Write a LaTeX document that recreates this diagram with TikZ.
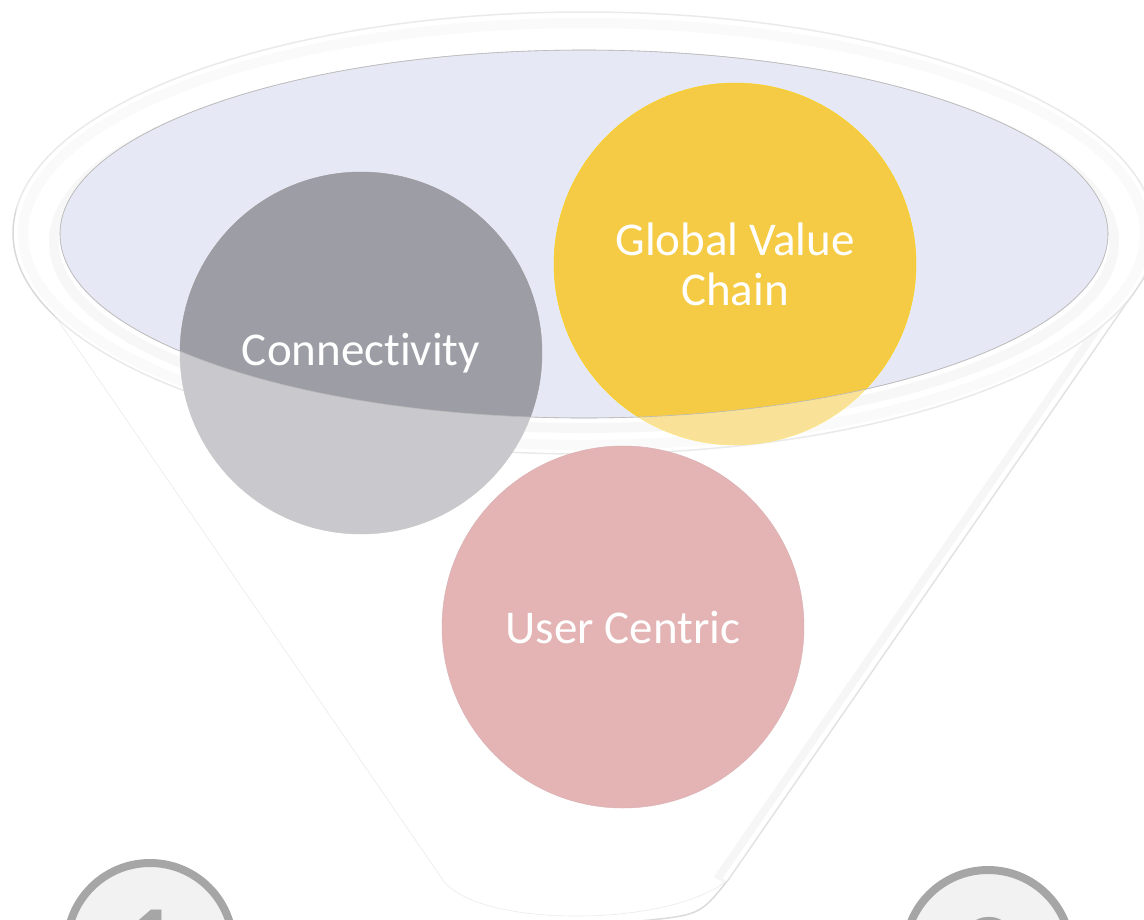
\documentclass[tikz,border=0pt]{standalone}
\usepackage{fontspec}
\setmainfont{Carlito}[Ligatures=NoCommon]
\usetikzlibrary{positioning}

\definecolor{mouthlav}{HTML}{E6E8F5}
\definecolor{connectgray}{HTML}{9D9DA5}
\definecolor{chainyellow}{HTML}{F5CB45}
\definecolor{userpink}{HTML}{CE777A}
\definecolor{badgefill}{HTML}{F2F2F2}
\definecolor{badgeline}{HTML}{A6A6A6}

\begin{document}
\begin{tikzpicture}[x=1pt,y=-1pt,
  bubble/.style={circle,minimum size=362pt,inner sep=0pt,text=white,align=center,
    font=\fontsize{47}{50}\selectfont},
  badge/.style={circle,minimum size=166pt,inner sep=0pt,fill=badgefill,draw=badgeline,
    line width=8pt,text=badgeline,font=\fontsize{110}{110}\selectfont\bfseries}]

  \useasboundingbox (0,0) rectangle (1144,919);
  \clip (0,0) rectangle (1144,919);

  % funnel body
  \coordinate (lt) at (18,262);
  \coordinate (lb) at (443,880);
  \coordinate (rb) at (728,880);
  \coordinate (rt) at (1152,266);
  \filldraw[fill=white,draw=gray!20,line width=0.6pt]
    (lt) -- (lb) .. controls (478,928) and (668,928) .. (rb) -- (rt);
  \draw[gray!12,line width=12pt] ([xshift=-9pt]rt) -- ([xshift=-9pt]rb);
  \draw[white,line width=6pt] ([xshift=-3pt]rt) -- ([xshift=-3pt]rb);
  \draw[gray!28,line width=1.5pt] (rt) -- (rb) .. controls (700,915) .. (640,921);

  % rim
  \filldraw[fill=white,draw=gray!30,line width=1.5pt] (584,233) ellipse (571 and 221);
  \draw[gray!7,line width=10pt] (584,234) ellipse (561 and 211);
  \draw[gray!10,line width=10pt] (584,242) ellipse (530 and 186);
  \filldraw[fill=mouthlav,draw=gray!45,line width=0.6pt] (584,234) ellipse (524 and 184);

  % bubbles
  \node[bubble,fill=connectgray,draw=gray!80] (conn) at (361,353) {Connectivity};
  \node[bubble,fill=chainyellow,draw=yellow!70!orange] (gvc) at (735,264) {Global Value\\Chain};
  \node[bubble,fill=userpink,draw=userpink!90!black] (user) at (623,627) {User Centric};

  % front face of the funnel
  \fill[white,opacity=0.45,even odd rule]
    (lt) -- (lb) .. controls (478,928) and (668,928) .. (rb) -- (rt) -- (1152,-5) -- (10,-5) -- cycle
    (584,234) ellipse (524 and 184);
  \draw[gray!55,line width=0.6pt] (584,234) ellipse (524 and 184);

  % badges
  \node[badge] (one) at (150,946) {1};
  \node[badge] (two) at (988,953) {2};

\end{tikzpicture}
\end{document}
